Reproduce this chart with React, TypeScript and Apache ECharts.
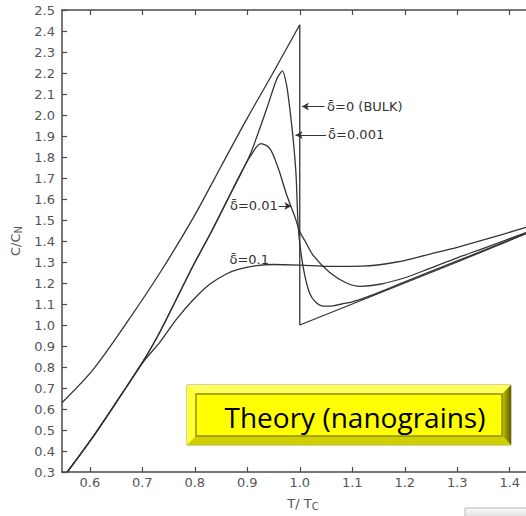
import React, { useEffect, useRef } from "react";
import * as echarts from "echarts";

// ---- axis ticks ----
const xTickValues = [0.6, 0.7, 0.8, 0.9, 1.0, 1.1, 1.2, 1.3, 1.4];

// ---- bulk (delta = 0), below Tc ----
const bulkLowT = [0.547, 0.607, 0.67, 0.734, 0.797, 0.85, 0.9, 0.95, 1.0];
const bulkLowC = [0.63, 0.79, 1.01, 1.25, 1.51, 1.755, 1.985, 2.205, 2.43];
// ---- bulk (delta = 0), jump and normal state ----
const bulkHighT = [1.0, 1.0, 1.1, 1.2, 1.3, 1.431];
const bulkHighC = [2.43, 1.0, 1.1, 1.2, 1.3, 1.435];

// ---- delta = 0.001 ----
const d001T = [0.557, 0.607, 0.67, 0.702, 0.734, 0.797, 0.829, 0.861, 0.905, 0.937, 0.956, 0.967, 0.975, 0.981, 0.988, 0.993, 0.997, 1.003, 1.01, 1.019, 1.03, 1.045, 1.06, 1.08, 1.1, 1.13, 1.2, 1.3, 1.431];
const d001C = [0.3, 0.471, 0.706, 0.829, 0.969, 1.283, 1.432, 1.59, 1.81, 2.03, 2.17, 2.21, 2.14, 2.03, 1.87, 1.71, 1.47, 1.33, 1.23, 1.15, 1.11, 1.09, 1.09, 1.1, 1.11, 1.135, 1.205, 1.305, 1.435];

// ---- delta = 0.01 ----
const d01T = [0.557, 0.607, 0.67, 0.702, 0.734, 0.797, 0.829, 0.861, 0.885, 0.905, 0.926, 0.943, 0.959, 0.975, 0.99, 1.0, 1.01, 1.026, 1.057, 1.089, 1.115, 1.153, 1.2, 1.248, 1.3, 1.35, 1.431];
const d01C = [0.3, 0.471, 0.706, 0.829, 0.969, 1.283, 1.432, 1.59, 1.71, 1.8, 1.864, 1.84, 1.746, 1.62, 1.52, 1.445, 1.4, 1.33, 1.25, 1.2, 1.184, 1.194, 1.225, 1.27, 1.32, 1.365, 1.44];

// ---- delta = 0.1 ----
const d1T = [0.557, 0.607, 0.67, 0.702, 0.734, 0.766, 0.797, 0.829, 0.86, 0.886, 0.918, 0.95, 1.0, 1.057, 1.12, 1.185, 1.248, 1.3, 1.35, 1.431];
const d1C = [0.3, 0.471, 0.706, 0.825, 0.92, 1.03, 1.12, 1.195, 1.243, 1.267, 1.283, 1.288, 1.285, 1.279, 1.28, 1.3, 1.338, 1.37, 1.405, 1.465];

// ---- annotation texts ----
const labelTexts = ["δ̄=0 (BULK)", "δ̄=0.001", "δ̄=0.01", "δ̄=0.1"];
const boxText = "Theory (nanograins)";

const zip = (a: number[], b: number[]) => a.map((v, i) => [v, b[i]]);

const LINE = "#343434";
const AXIS = "#4a4a4a";
const FONT = "DejaVu Sans";

export default function App() {
  const ref = useRef<HTMLDivElement>(null);

  useEffect(() => {
    if (!ref.current) return;
    const chart = echarts.init(ref.current, undefined, { renderer: "svg" });

    const lineSeries = (name: string, data: number[][], smooth: boolean | number, extra: any = {}) => ({
      name,
      type: "line",
      data,
      showSymbol: false,
      symbol: "none",
      smooth,
      lineStyle: { color: LINE, width: 1.3 },
      silent: true,
      ...extra,
    });

    const option: any = {
      animation: false,
      backgroundColor: "#ffffff",
      grid: { left: 62, top: 10, right: 0, bottom: 39, containLabel: false },
      xAxis: [
        {
          type: "value",
          min: 0.547,
          max: 1.431,
          position: "bottom",
          name: "T/ T{sub|C}",
          nameLocation: "middle",
          nameGap: 23,
          nameTextStyle: {
            fontFamily: FONT,
            fontSize: 13,
            color: "#555",
            padding: [0, 0, 0, 18],
            rich: { sub: { fontSize: 10, verticalAlign: "bottom", padding: [6, 0, 0, 0], fontFamily: FONT, color: "#555" } },
          },
          axisLine: { show: true, onZero: false, lineStyle: { color: AXIS, width: 1.5 } },
          axisTick: { show: true, inside: true, length: 5, customValues: xTickValues, lineStyle: { color: AXIS, width: 1.2 } },
          axisLabel: {
            show: true,
            customValues: xTickValues,
            margin: 4,
            fontFamily: FONT,
            fontSize: 13,
            color: "#555",
            formatter: (v: number) => v.toFixed(1),
          },
          splitLine: { show: false },
        },
        {
          type: "value",
          min: 0.547,
          max: 1.431,
          position: "top",
          axisLine: { show: true, onZero: false, lineStyle: { color: AXIS, width: 1.5 } },
          axisTick: { show: true, inside: true, length: 5, customValues: xTickValues, lineStyle: { color: AXIS, width: 1.2 } },
          axisLabel: { show: false },
          splitLine: { show: false },
        },
      ],
      yAxis: {
        type: "value",
        min: 0.3,
        max: 2.5,
        interval: 0.1,
        name: "C/C{sub|N}",
        nameLocation: "middle",
        nameGap: 29,
        nameTextStyle: {
          fontFamily: FONT,
          fontSize: 13,
          color: "#555",
          rich: { sub: { fontSize: 10, verticalAlign: "bottom", padding: [6, 0, 0, 0], fontFamily: FONT, color: "#555" } },
        },
        axisLine: { show: true, onZero: false, lineStyle: { color: AXIS, width: 1.5 } },
        axisTick: { show: true, inside: true, length: 5, lineStyle: { color: AXIS, width: 1.2 } },
        axisLabel: {
          margin: 7,
          fontFamily: FONT,
          fontSize: 13,
          color: "#555",
          formatter: (v: number) => v.toFixed(1),
        },
        splitLine: { show: false },
      },
      series: [
        lineSeries("δ=0 (bulk) T<Tc", zip(bulkLowT, bulkLowC), 0.3),
        lineSeries("δ=0 (bulk) T>Tc", zip(bulkHighT, bulkHighC), false, {
          markLine: {
            silent: true,
            symbol: ["none", "arrow"],
            symbolSize: [6, 7],
            label: { show: false },
            lineStyle: { color: LINE, width: 1, type: "solid" },
            data: [
              [{ coord: [1.047, 2.04] }, { coord: [1.004, 2.04] }],
              [{ coord: [1.05, 1.905] }, { coord: [0.992, 1.905] }],
              [{ coord: [0.96, 1.567] }, { coord: [0.984, 1.567] }],
            ],
          },
        }),
        lineSeries("δ=0.001", zip(d001T, d001C), 0.25),
        lineSeries("δ=0.01", zip(d01T, d01C), 0.3),
        lineSeries("δ=0.1", zip(d1T, d1C), 0.3),
      ],
    };

    chart.setOption(option);

    const px = (t: number, c: number) => chart.convertToPixel({ xAxisIndex: 0, yAxisIndex: 0 }, [t, c]) as number[];
    const p0 = px(1.052, 2.04);
    const p1 = px(1.054, 1.905);
    const p2 = px(0.958, 1.567);
    const p3 = px(0.866, 1.312);
    const txt = (p: number[], text: string, align: string) => ({
      type: "text",
      x: p[0],
      y: p[1],
      silent: true,
      style: { text, fill: "#333", fontFamily: FONT, fontSize: 13, align, verticalAlign: "middle" },
    });

    // yellow bevelled box
    const bx = 187, by = 385, bw = 324, bh = 60, inset = 9;
    const ix = bx + inset, iy = by + inset, iw = bw - 2 * inset, ih = bh - 2 * inset;

    chart.setOption({
      graphic: [
        txt(p0, labelTexts[0], "left"),
        txt(p1, labelTexts[1], "left"),
        txt(p2, labelTexts[2], "right"),
        txt(p3, labelTexts[3], "left"),
        {
          type: "group",
          silent: true,
          children: [
            { type: "rect", shape: { x: bx, y: by, width: bw, height: bh }, style: { fill: "#f6f600", stroke: "#a0a060", lineWidth: 1 } },
            { type: "polygon", shape: { points: [[bx, by], [bx + bw, by], [ix + iw, iy], [ix, iy]] }, style: { fill: "#ffff5a" } },
            { type: "polygon", shape: { points: [[bx, by], [ix, iy], [ix, iy + ih], [bx, by + bh]] }, style: { fill: "#ffff33" } },
            {
              type: "polygon",
              shape: { points: [[bx + bw, by], [bx + bw, by + bh], [ix + iw, iy + ih], [ix + iw, iy]] },
              style: {
                fill: new echarts.graphic.LinearGradient(0, 0, 1, 0, [
                  { offset: 0, color: "#c8c800" },
                  { offset: 1, color: "#5c5c00" },
                ]),
              },
            },
            { type: "polygon", shape: { points: [[bx, by + bh], [bx + bw, by + bh], [ix + iw, iy + ih], [ix, iy + ih]] }, style: { fill: "#cfcf00" } },
            { type: "rect", shape: { x: ix, y: iy, width: iw, height: ih }, style: { fill: "#ffff00", stroke: "#8f8f10", lineWidth: 1.5 } },
            {
              type: "text",
              x: 355,
              y: 417,
              style: { text: boxText, fill: "#000", fontFamily: "Open Sans", fontSize: 28, align: "center", verticalAlign: "middle" },
            },
          ],
        },
        {
          type: "rect",
          silent: true,
          shape: { x: 465, y: 508, width: 70, height: 12 },
          style: {
            fill: new echarts.graphic.LinearGradient(0, 0, 0, 1, [
              { offset: 0, color: "#fbfbfb" },
              { offset: 1, color: "#d6d6d6" },
            ]),
            stroke: "#b5b5b5",
            lineWidth: 1,
          },
        },
      ],
    });

    return () => chart.dispose();
  }, []);

  return (
    <div
      ref={ref}
      style={{ position: "fixed", left: 0, top: 0, width: 526, height: 516, background: "#fff" }}
    />
  );
}
